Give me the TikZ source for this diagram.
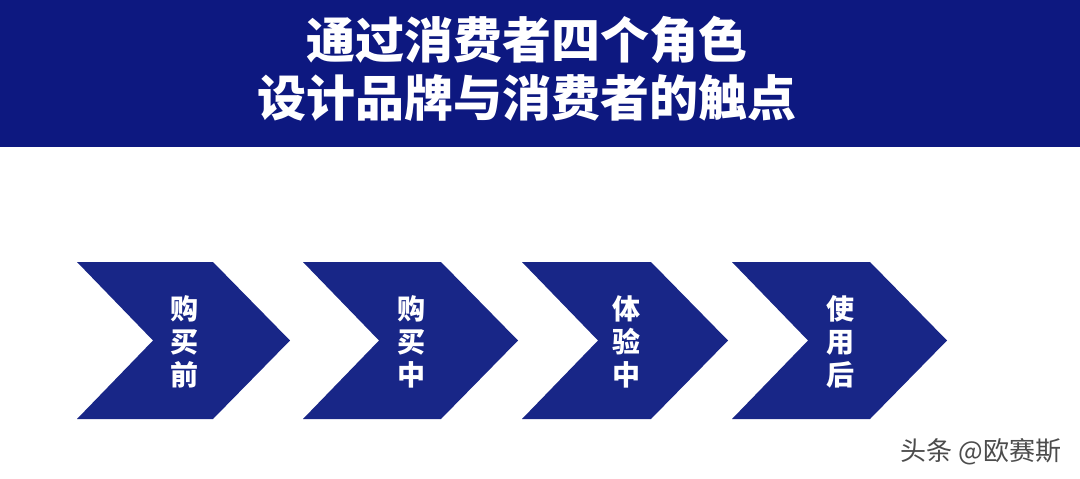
\documentclass[tikz,border=0pt]{standalone}
\usepackage{fontspec}
\setmainfont{Noto Sans CJK SC}
\newfontfamily\heavycjk{Noto Sans CJK SC Black}
\usepackage{tikz}
\usetikzlibrary{positioning}

\definecolor{bandblue}{RGB}{13,24,128}
\definecolor{chevblue}{RGB}{24,38,135}

\begin{document}
\begin{tikzpicture}[x=1pt, y=-1pt, node distance=0.5cm]
        \tikzstyle{band} = [fill=bandblue];
        \tikzstyle{chev} = [fill=chevblue];
        \tikzstyle{title} = [text=white, font=\fontsize{49}{58}\selectfont\heavycjk, align=center, inner sep=0pt];
        \tikzstyle{stage} = [text=white, font=\fontsize{28}{33}\selectfont\bfseries, align=center, inner sep=0pt];
        \tikzstyle{wmark} = [text=black!70, font=\fontsize{26}{26}\selectfont, inner sep=0pt];

        \useasboundingbox (0,0) rectangle (1080,479);
        \fill[white] (0,0) rectangle (1080,479);
        \fill[band] (0,0) rectangle (1080,147);
        \node[title] (head) at (527,69) {通过消费者四个角色\\设计品牌与消费者的触点};

        % chevrons: left edge / width / label
        \foreach \x/\w/\t [count=\i] in {77/213/{购\\买\\前}, 303/215/{购\\买\\中}, 522/206/{体\\验\\中}, 732/215/{使\\用\\后}} {
            \fill[chev] (\x,262) -- ++(\w-77,0) -- ++(77,78.5) -- ++(-77,78.5)
                -- ++(77-\w,0) -- ++(76,-78.5) -- cycle;
            \node[stage] (s\i) at (\x+\w/2+1,342) {\t};
        }

        \node[wmark] (wm) at (981,452) {头条 @欧赛斯};
    \end{tikzpicture}
\end{document}
